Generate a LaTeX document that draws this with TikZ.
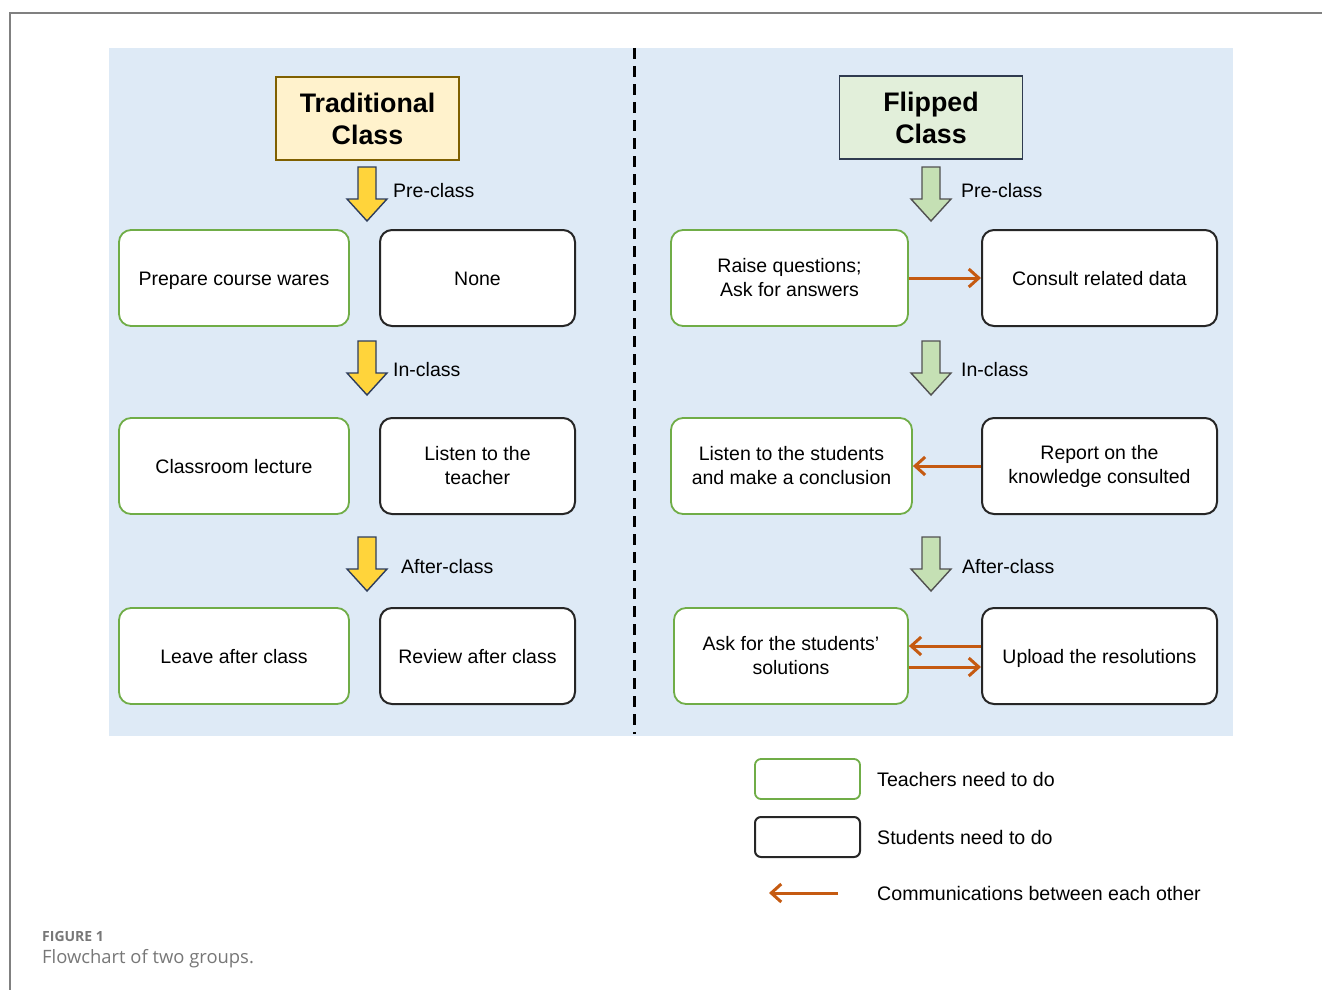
\documentclass[tikz,border=0pt]{standalone}
\usepackage{fontspec}
\setmainfont{Liberation Sans}
\newfontfamily\capfont{Open Sans}
\usetikzlibrary{arrows.meta}
\definecolor{bgblue}{HTML}{DEEAF6}
\definecolor{tradfill}{HTML}{FFF2CC}
\definecolor{tradline}{HTML}{7F6000}
\definecolor{flipfill}{HTML}{E2EFDA}
\definecolor{flipline}{HTML}{2F3B4F}
\definecolor{tgreen}{HTML}{70AD47}
\definecolor{sdark}{HTML}{262626}
\definecolor{comm}{HTML}{C55A11}
\definecolor{yarrow}{HTML}{FFD43B}
\definecolor{garrow}{HTML}{C5E0B4}
\definecolor{arrline}{HTML}{2E3D5C}
\definecolor{capgray}{HTML}{777777}
\tikzset{
  boxtext/.style={font=\fontsize{19.5}{24}\selectfont, align=center, inner sep=0pt},
  teacher/.style={boxtext, draw=tgreen, line width=1.8pt, fill=white, rounded corners=12pt, minimum height=96pt},
  student/.style={boxtext, draw=sdark, line width=2pt, fill=white, rounded corners=12pt, minimum height=96pt},
  oneline/.style={text height=14pt, text depth=0pt},
  title/.style={font=\fontsize{26.8}{32}\selectfont\bfseries, align=center, inner sep=0pt, line width=1.6pt, minimum width=183pt, minimum height=83pt},
  phase/.style={font=\fontsize{19.5}{22}\selectfont, anchor=west, inner sep=0pt},
  commarrow/.style={draw=comm, line width=3pt, -{Straight Barb[length=10pt,width=18pt,line width=3pt]}},
  legtext/.style={font=\fontsize{19.6}{22}\selectfont, anchor=west, inner sep=0pt},
  pics/blockarrow/.style={code={
    \path[pic actions, line width=1.4pt, line join=miter]
      (-9,0) -- (9,0) -- (9,32) -- (20,32) -- (0,54) -- (-20,32) -- (-9,32) -- cycle;
  }}
}
\begin{document}
\begin{tikzpicture}[x=1pt,y=-1pt]
\useasboundingbox (0,0) rectangle (1322,990);
\draw[gray, line width=2pt] (10,990) -- (10,13) -- (1322,13);
\fill[bgblue] (109,48) rectangle (1233,736);
\draw[black, line width=3pt, dash pattern=on 11pt off 7pt] (634,48) -- (634,734);

% titles
\node[title, draw=tradline, fill=tradfill] (trad) at (367.5,118.5) {Traditional\\Class};
\node[title, draw=flipline, fill=flipfill] (flip) at (931,117.5) {Flipped\\Class};

% block arrows
\pic[fill=yarrow, draw=arrline] at (367,167) {blockarrow};
\pic[fill=yarrow, draw=arrline] at (367,341) {blockarrow};
\pic[fill=yarrow, draw=arrline] at (367,537) {blockarrow};
\pic[fill=garrow, draw=sdark!80] at (931,167) {blockarrow};
\pic[fill=garrow, draw=sdark!80] at (931,341) {blockarrow};
\pic[fill=garrow, draw=sdark!80] at (931,537) {blockarrow};

\node[phase] (lp1) at (393,191) {Pre-class};
\node[phase] (lp2) at (393,370) {In-class};
\node[phase] (lp3) at (401,567) {After-class};
\node[phase] (rp1) at (961,191) {Pre-class};
\node[phase] (rp2) at (961,370) {In-class};
\node[phase] (rp3) at (962,567) {After-class};

% left column
\node[teacher, oneline, minimum width=230pt] (l11) at (234,278) {Prepare course wares};
\node[student, oneline, minimum width=195pt] (l12) at (477.5,278) {None};
\node[teacher, oneline, minimum width=230pt] (l21) at (234,466) {Classroom lecture};
\node[student, minimum width=195pt] (l22) at (477.5,466) {Listen to the\\teacher};
\node[teacher, oneline, minimum width=230pt] (l31) at (234,656) {Leave after class};
\node[student, oneline, minimum width=195pt] (l32) at (477.5,656) {Review after class};

% right column
\node[teacher, minimum width=237pt] (r11) at (789.5,278) {Raise questions;\\Ask for answers};
\node[student, oneline, minimum width=235pt] (r12) at (1099.5,278) {Consult related data};
\node[teacher, minimum width=241pt] (r21) at (791.5,466) {Listen to the students\\and make a conclusion};
\node[student, minimum width=235pt] (r22) at (1099.5,466) {Report on the\\knowledge consulted};
\node[teacher, minimum width=234pt] (r31) at (791,656) {Ask for the students'\\solutions};
\node[student, oneline, minimum width=235pt] (r32) at (1099.5,656) {Upload the resolutions};

\draw[commarrow] (r11.east) -- (r12.west);
\draw[commarrow] (r22.west) -- (r21.east);
\draw[commarrow] ([yshift=10pt]r32.west) -- ([yshift=10pt]r31.east);
\draw[commarrow] ([yshift=-11pt]r31.east) -- ([yshift=-11pt]r32.west);

% legend
\node[draw=tgreen, line width=1.8pt, rounded corners=6pt, minimum width=105pt, minimum height=40pt, inner sep=0pt] (lg1) at (807.5,779) {};
\node[draw=sdark, line width=2pt, rounded corners=6pt, minimum width=105pt, minimum height=40pt, inner sep=0pt] (lg2) at (807.5,837) {};
\coordinate (la1) at (838,893);
\coordinate (la2) at (769,893);
\draw[commarrow] (la1) -- (la2);
\node[legtext] (lt1) at (877,779) {Teachers need to do};
\node[legtext] (lt2) at (877,837) {Students need to do};
\node[legtext] (lt3) at (877,893) {Communications between each other};

% caption
\node[anchor=west, inner sep=0pt, text=capgray, font=\capfont\bfseries\fontsize{14}{16}\selectfont] (fig) at (42,936) {FIGURE 1};
\node[anchor=west, inner sep=0pt, text=capgray, font=\capfont\fontsize{18.4}{20}\selectfont] (cap) at (42,959) {Flowchart of two groups.};
\end{tikzpicture}
\end{document}
